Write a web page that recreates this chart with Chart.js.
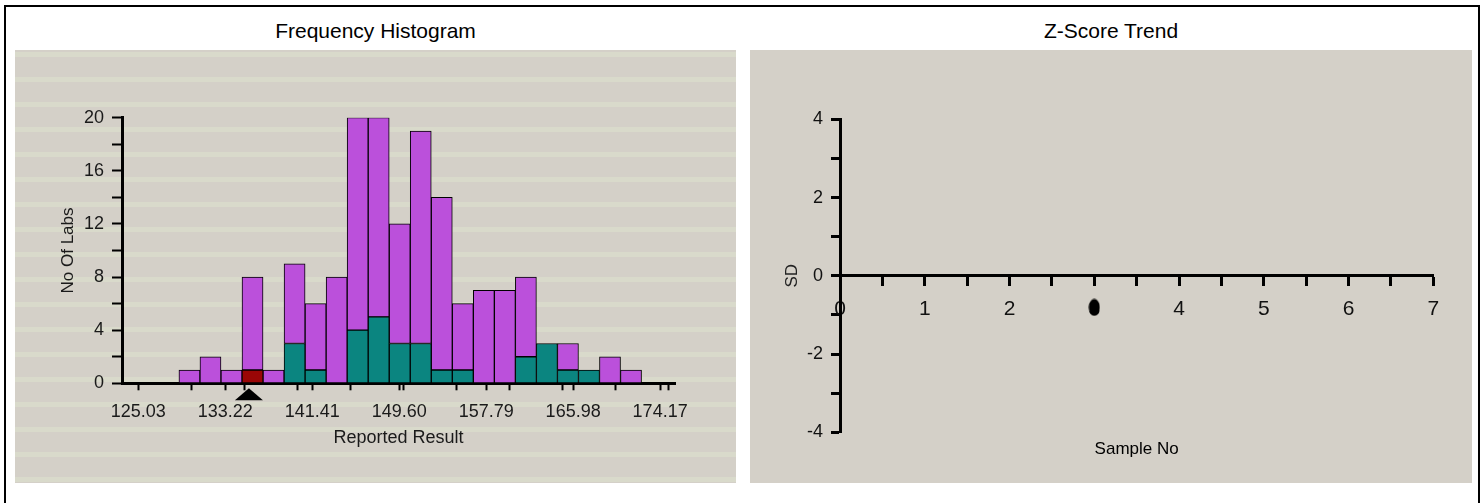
<!DOCTYPE html>
<html><head><meta charset="utf-8">
<script src="https://cdn.jsdelivr.net/npm/chart.js@4/dist/chart.umd.min.js"></script>
<style>
html,body{margin:0;padding:0;background:#fff;width:1484px;height:503px;overflow:hidden;font-family:'Liberation Sans',Arial,sans-serif;}
#frame{position:absolute;left:4px;top:5px;width:1476px;height:560px;border:2px solid #000;box-sizing:border-box;}
.title{position:absolute;top:19px;font-size:21px;line-height:24px;color:#000;text-align:center;}
.panel{position:absolute;top:50px;height:433px;}
#p1{left:15px;width:721px;background:repeating-linear-gradient(to bottom,#d4d0c8 0px,#d4d0c8 2px,#d9dacb 2px,#d9dacb 7px,#d4d0c8 7px,#d4d0c8 25px);}
#p2{left:750px;width:722px;background:#d4d0c8;}
canvas{position:absolute;left:0;top:0;}
</style></head>
<body>
<div id="frame"></div>
<div class="title" style="left:15px;width:721px;">Frequency Histogram</div>
<div class="title" style="left:750px;width:722px;">Z-Score Trend</div>
<div class="panel" id="p1"><canvas id="c1" width="721" height="433"></canvas></div>
<div class="panel" id="p2"><canvas id="c2" width="722" height="433"></canvas></div>
<script>
// ---- Histogram data ----
const binCenters   = [129.85,131.83,133.81,135.79,137.77,139.75,141.73,143.71,145.69,147.67,149.65,151.63,153.61,155.59,157.57,159.55,161.53,163.51,165.49,167.47,169.45,171.43];
const tealCounts   = [0,0,0,0,0,3,1,0,4,5,3,3,1,1,0,0,2,3,1,1,0,0];
const redCounts    = [0,0,0,1,0,0,0,0,0,0,0,0,0,0,0,0,0,0,0,0,0,0];
const purpleCounts = [1,2,1,7,1,6,5,8,16,15,9,16,13,5,7,7,6,0,2,0,2,1];
const labResult = 135.45;
const xMajorTicks  = [125.03,133.22,141.41,149.60,157.79,165.98,174.17];
const xMajorLabels = ['125.03','133.22','141.41','149.60','157.79','165.98','174.17'];
const xMinorTicks  = [130,135,140,145,150,155,160,165,170,175];
// ---- Z-score data ----
const zSamples = [3];
const zScores  = [-0.81];

Chart.defaults.font.family = "'Liberation Sans', Arial, sans-serif";

const TEAL = '#0b8580', RED = '#9a0606', PURPLE = '#bb50db';
const nz = v => (v ? v : null);

const markerPlugin = {
  id: 'labMarker',
  afterDraw(chart) {
    const xs = chart.scales.x;
    const px = xs.getPixelForValue(labResult);
    const y0 = chart.chartArea.bottom;
    const ctx = chart.ctx;
    ctx.save();
    ctx.fillStyle = '#000';
    ctx.beginPath();
    ctx.moveTo(px, y0 + 5);
    ctx.lineTo(px + 14, y0 + 17);
    ctx.lineTo(px - 14, y0 + 17);
    ctx.closePath();
    ctx.fill();
    ctx.restore();
  }
};

// bar width = one bin, measured through the x scale
const binWidthPx = ctx => {
  const xs = ctx.chart.scales.x;
  if (!xs) return 20;
  return Math.abs(xs.getPixelForValue(binCenters[1]) - xs.getPixelForValue(binCenters[0]));
};

new Chart(document.getElementById('c1'), {
  type: 'bar',
  data: {
    datasets: [
      {label: 'Other', data: binCenters.map((x, i) => ({x, y: nz(tealCounts[i])})), backgroundColor: TEAL},
      {label: 'Your result', data: binCenters.map((x, i) => ({x, y: nz(redCounts[i])})), backgroundColor: RED},
      {label: 'Method', data: binCenters.map((x, i) => ({x, y: nz(purpleCounts[i])})), backgroundColor: PURPLE}
    ]
  },
  options: {
    responsive: false, animation: false, devicePixelRatio: 1,
    layout: {padding: {left: 0, top: 67.7, right: 61, bottom: 0}},
    plugins: {legend: {display: false}, tooltip: {enabled: false}},
    datasets: {bar: {barThickness: binWidthPx, borderWidth: 1, borderColor: '#000', borderSkipped: false}},
    scales: {
      x: {
        type: 'linear', stacked: true, min: 123.5, max: 175.57, offset: false,
        grid: {offset: false, drawOnChartArea: false, color: '#000', tickLength: 7, tickWidth: 2},
        border: {color: '#000', width: 3},
        ticks: {autoSkip: false, maxRotation: 0, padding: 11, color: '#1a1a1a', font: {size: 18},
          callback: v => { const i = xMajorTicks.findIndex(t => Math.abs(t - v) < 1e-6); return i >= 0 ? xMajorLabels[i] : ''; }},
        afterBuildTicks: s => { s.ticks = [...xMajorTicks, ...xMinorTicks].sort((a, b) => a - b).map(v => ({value: v})); },
        afterFit: s => { s.height = 99.7; },
        title: {display: true, text: 'Reported Result', color: '#1a1a1a', font: {size: 18}, padding: {top: 0, bottom: 34}}
      },
      y: {
        type: 'linear', stacked: true, min: 0, max: 20,
        grid: {drawOnChartArea: false, color: '#000', tickLength: 10, tickWidth: 2},
        border: {color: '#000', width: 3},
        ticks: {stepSize: 2, autoSkip: false, padding: 8, color: '#1a1a1a', font: {size: 18},
          callback: v => (v % 4 === 0 ? String(v) : '')},
        afterFit: s => { s.width = 107; },
        title: {display: true, text: 'No Of Labs', color: '#1a1a1a', font: {size: 17}, padding: {top: 43, bottom: 0}}
      }
    }
  },
  plugins: [markerPlugin]
});

const dot = document.createElement('canvas');
dot.width = 12; dot.height = 18;
(function () { const c = dot.getContext('2d'); c.fillStyle = '#000'; c.beginPath(); c.ellipse(6, 9, 5.5, 8.5, 0, 0, Math.PI * 2); c.fill(); })();

new Chart(document.getElementById('c2'), {
  type: 'scatter',
  data: {datasets: [{label: 'Z-Score', data: zSamples.map((x, i) => ({x, y: zScores[i]})), pointStyle: dot, pointRadius: 6, backgroundColor: '#000', borderColor: '#000'}]},
  options: {
    responsive: false, animation: false, devicePixelRatio: 1,
    layout: {padding: {left: 0, top: 69.3, right: 38.7, bottom: 0}},
    plugins: {legend: {display: false}, tooltip: {enabled: false}},
    scales: {
      x: {
        type: 'linear', position: {y: 0}, min: 0, max: 7,
        grid: {drawOnChartArea: false, color: '#000', tickLength: 9, tickWidth: 3},
        border: {color: '#000', width: 3},
        ticks: {stepSize: 0.5, autoSkip: false, maxRotation: 0, padding: 12, color: '#111', font: {size: 21},
          callback: v => (Number.isInteger(v) ? String(v) : '')}
      },
      xb: {
        type: 'linear', axis: 'x', position: 'bottom', min: 0, max: 7,
        ticks: {display: false}, grid: {display: false}, border: {display: false},
        afterFit: s => { s.height = 50.7; },
        title: {display: true, text: 'Sample No', color: '#000', font: {size: 17}, padding: {top: 0, bottom: 23}}
      },
      y: {
        type: 'linear', position: 'left', min: -4, max: 4,
        grid: {drawOnChartArea: false, color: '#000', tickLength: 9, tickWidth: 3},
        border: {color: '#000', width: 3},
        ticks: {stepSize: 1, autoSkip: false, padding: 8, color: '#111', font: {size: 18},
          callback: v => (v % 2 === 0 ? String(v) : '')},
        afterFit: s => { s.width = 90; },
        title: {display: true, text: 'SD', color: '#222', font: {size: 17}, padding: {top: 32, bottom: 0}}
      }
    }
  }
});
</script>
</body></html>
